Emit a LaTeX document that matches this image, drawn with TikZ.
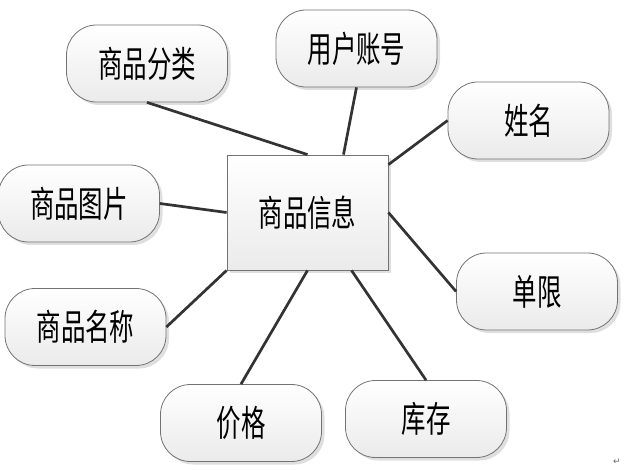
\documentclass[tikz,border=0pt]{standalone}
\usepackage{fontspec}
\newfontfamily\cjk[FakeStretch=0.68]{Noto Sans CJK SC}
\newfontfamily\symfont{DejaVu Sans}
\usetikzlibrary{shadows}
\tikzset{
  base/.style={draw=black!55, line width=0.8pt, top color=white, bottom color=black!8,
    drop shadow={shadow xshift=3pt, shadow yshift=-3pt, opacity=0.25},
    font=\cjk\fontsize{36}{36}\selectfont, text=black, inner sep=0pt},
  attr/.style={base, rounded corners=30pt, minimum width=161pt, minimum height=77pt},
  entity/.style={base, minimum width=161pt, minimum height=115pt},
  link/.style={draw=black!80, line width=2.7pt}
}
\begin{document}
\begin{tikzpicture}[x=1pt,y=-1pt]
\useasboundingbox (0,0) rectangle (629,470);
\node[entity] (info) at (307.5,212.5) {商品信息};
\node[attr] (fenlei) at (147,63.5) {商品分类};
\node[attr] (zhanghao) at (356.5,48.5) {用户账号};
\node[attr] (xingming) at (528.5,120.5) {姓名};
\node[attr] (tupian) at (79,203.5) {商品图片};
\node[attr] (danxian) at (537,291.5) {单限};
\node[attr] (mingcheng) at (85.5,327) {商品名称};
\node[attr] (jiage) at (241,423) {价格};
\node[attr] (kucun) at (426,419) {库存};
\node[text=black!60, font=\symfont\fontsize{9}{9}\selectfont, inner sep=0pt] (mark) at (617,462) {↵};
\draw[link] (fenlei.south) -- (info.north);
\draw[link] (zhanghao.south) -- ([xshift=36pt]info.north);
\draw[link] ([yshift=-10pt]info.north east) -- (xingming.west);
\draw[link] (tupian.east) -- (info.west);
\draw[link] (info.east) -- (danxian.west);
\draw[link] (mingcheng.east) -- (info.south west);
\draw[link] (info.south) -- (jiage.north);
\draw[link] ([xshift=44pt]info.south) -- (kucun.north);
\end{tikzpicture}
\end{document}
